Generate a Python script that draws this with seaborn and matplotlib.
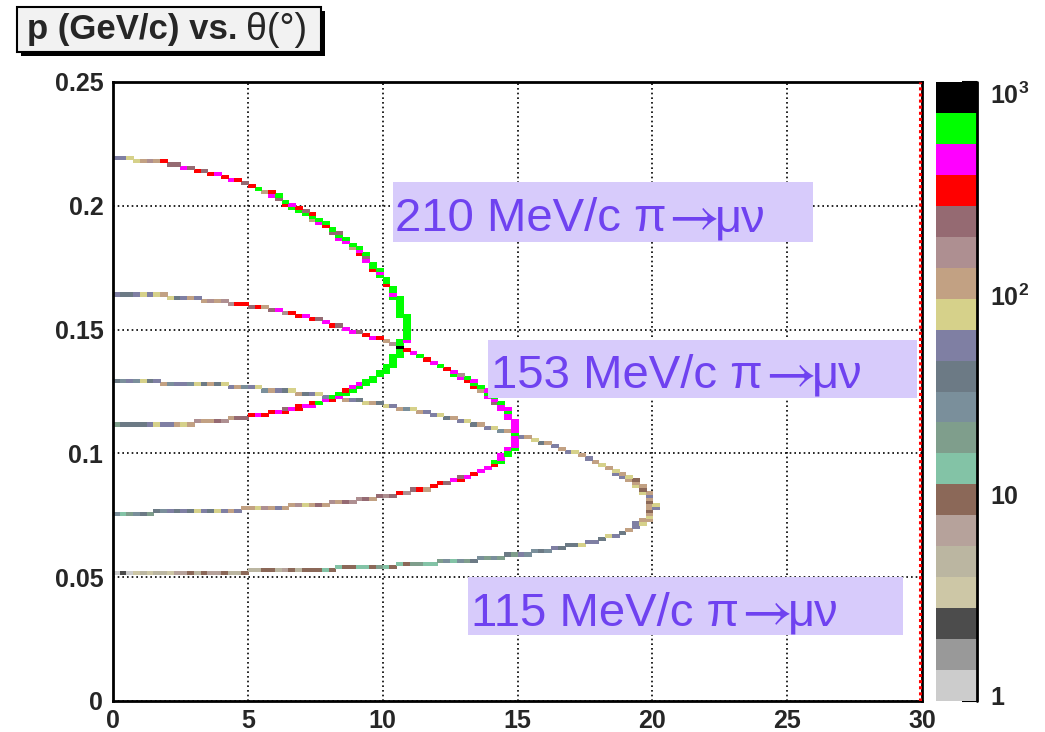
import numpy as np
import pandas as pd
import matplotlib
matplotlib.use("Agg")
import matplotlib.pyplot as plt
import matplotlib.transforms as mtransforms
from matplotlib.colors import ListedColormap, LogNorm
from matplotlib.patches import Rectangle
from matplotlib.ticker import MultipleLocator, FixedLocator, FuncFormatter, NullFormatter
import seaborn as sns

# Muon momentum p (GeV/c) versus muon angle theta (deg) for pi -> mu nu decays in flight.
# Each cell: theta column centre (deg), p cell centre (GeV/c), entries.
pion_momenta = [210, 153, 115]  # MeV/c

# ---- 210 MeV/c pions: forward-emitted (high-p) branch ----
theta_210_fwd = [0.125, 0.375, 0.625, 0.875, 1.125, 1.375, 1.625, 1.875, 2.125, 2.375,
                 2.625, 2.875, 3.125, 3.375, 3.625, 3.875, 4.125, 4.375, 4.625, 4.875,
                 5.125, 5.375, 5.625,
                 5.875, 5.875, 6.125, 6.125, 6.375, 6.375, 6.625, 6.625, 6.875, 6.875, 7.125, 7.125,
                 7.375, 7.375, 7.375, 7.625, 7.625, 7.875, 7.875, 8.125, 8.125,
                 8.375, 8.375, 8.375, 8.625, 8.625, 8.875, 8.875,
                 9.125, 9.125, 9.125, 9.375, 9.375, 9.375, 9.625, 9.625, 9.625,
                 9.875, 9.875, 9.875, 10.125, 10.125, 10.125,
                 10.375, 10.375, 10.375, 10.375,
                 10.625, 10.625, 10.625, 10.625, 10.625, 10.625, 10.625,
                 10.875, 10.875, 10.875, 10.875, 10.875, 10.875, 10.875, 10.875, 10.875]
p_210_fwd = [0.2194, 0.2194, 0.2194, 0.2181, 0.2181, 0.2181, 0.2181, 0.2181, 0.2169, 0.2169,
             0.2156, 0.2156, 0.2144, 0.2144, 0.2131, 0.2131, 0.2119, 0.2106, 0.2106, 0.2094,
             0.2081, 0.2069, 0.2056,
             0.2056, 0.2044, 0.2044, 0.2031, 0.2019, 0.2006, 0.2006, 0.1994, 0.1994, 0.1981, 0.1981, 0.1969,
             0.1969, 0.1956, 0.1944, 0.1944, 0.1931, 0.1931, 0.1919, 0.1906, 0.1894,
             0.1894, 0.1881, 0.1869, 0.1869, 0.1856, 0.1844, 0.1831,
             0.1831, 0.1819, 0.1806, 0.1806, 0.1794, 0.1781, 0.1769, 0.1756, 0.1744,
             0.1744, 0.1731, 0.1719, 0.1706, 0.1694, 0.1681,
             0.1669, 0.1656, 0.1644, 0.1631,
             0.1631, 0.1619, 0.1606, 0.1594, 0.1581, 0.1569, 0.1556,
             0.1556, 0.1544, 0.1531, 0.1519, 0.1506, 0.1494, 0.1481, 0.1469, 0.1456]
n_210_fwd = [45, 55, 70, 80, 110, 140, 120, 260, 190, 230,
             400, 210, 300, 180, 320, 420, 280, 380, 300, 200,
             330, 560, 110,
             290, 400, 560, 200, 520, 330, 460, 580, 280, 620, 210, 540,
             300, 590, 120, 600, 410, 560, 330, 610, 220,
             190, 650, 420, 600, 380, 570, 110,
             610, 440, 300, 590, 180, 480, 620, 560, 270,
             600, 420, 630, 580, 650, 300,
             620, 580, 450, 600,
             640, 600, 620, 650, 580, 620, 660,
             600, 620, 650, 610, 640, 580, 620, 600, 390]

# ---- 210 MeV/c pions: backward-emitted (low-p) branch ----
theta_210_bwd = [0.125, 0.375, 0.625, 0.875, 1.125, 1.375, 1.625, 1.875, 2.125, 2.375,
                 2.625, 2.875, 3.125, 3.375, 3.625, 3.875, 4.125, 4.375, 4.625, 4.875,
                 5.125, 5.375, 5.625, 5.875, 6.125,
                 6.375, 6.375, 6.625, 6.875, 6.875, 7.125, 7.375, 7.375, 7.625, 7.875,
                 8.125, 8.125, 8.375, 8.375, 8.625, 8.625, 8.875, 8.875, 9.125, 9.125,
                 9.375, 9.375, 9.625, 9.625, 9.875, 9.875,
                 10.125, 10.125, 10.125, 10.375, 10.375, 10.375, 10.375,
                 10.625, 10.625, 10.625, 10.625, 10.625, 10.625]
p_210_bwd = [0.1119, 0.1119, 0.1119, 0.1119, 0.1119, 0.1119, 0.1119, 0.1119, 0.1119, 0.1119,
             0.1119, 0.1119, 0.1131, 0.1131, 0.1131, 0.1131, 0.1131, 0.1144, 0.1144, 0.1144,
             0.1156, 0.1156, 0.1156, 0.1169, 0.1169,
             0.1169, 0.1181, 0.1181, 0.1181, 0.1194, 0.1194, 0.1194, 0.1206, 0.1206, 0.1219,
             0.1219, 0.1231, 0.1231, 0.1244, 0.1244, 0.1256, 0.1256, 0.1269, 0.1269, 0.1281,
             0.1281, 0.1294, 0.1294, 0.1306, 0.1319, 0.1331,
             0.1331, 0.1344, 0.1356, 0.1356, 0.1369, 0.1381, 0.1394,
             0.1394, 0.1406, 0.1419, 0.1431, 0.1444, 0.1456]
n_210_bwd = [18, 40, 38, 42, 35, 50, 70, 45, 60, 100,
             80, 95, 150, 110, 90, 190, 160, 120, 230, 200,
             280, 420, 300, 260, 380,
             300, 220, 420, 330, 280, 450, 380, 290, 520, 400,
             330, 560, 420, 600, 560, 330, 610, 480, 590, 420,
             640, 560, 600, 620, 580, 640,
             620, 600, 650, 600, 580, 620, 640,
             600, 620, 610, 640, 580, 600]

# ---- 153 MeV/c pions: forward branch ----
theta_153_fwd = [0.125, 0.375, 0.625, 0.875, 1.125, 1.375, 1.625, 1.875, 2.125, 2.375,
                 2.625, 2.875, 3.125, 3.375, 3.625, 3.875, 4.125, 4.375, 4.625, 4.875,
                 5.125, 5.375, 5.625, 5.875, 6.125, 6.375, 6.625, 6.875, 7.125, 7.375,
                 7.625, 7.875, 8.125, 8.375, 8.625, 8.875, 9.125, 9.375, 9.625, 9.875,
                 10.125, 10.375, 10.625, 10.875, 11.125, 11.375, 11.625, 11.875, 12.125, 12.375,
                 12.625, 12.625, 12.875, 12.875, 13.125, 13.125, 13.375, 13.375, 13.375,
                 13.625, 13.625, 13.875, 13.875, 13.875, 14.125, 14.125, 14.125,
                 14.375, 14.375, 14.375, 14.625, 14.625, 14.625, 14.625,
                 14.875, 14.875, 14.875, 14.875, 14.875, 14.875, 14.875, 14.875, 14.875, 14.875]
p_153_fwd = [0.1644, 0.1644, 0.1644, 0.1644, 0.1644, 0.1644, 0.1644, 0.1644, 0.1631, 0.1631,
             0.1631, 0.1631, 0.1631, 0.1619, 0.1619, 0.1619, 0.1619, 0.1606, 0.1606, 0.1606,
             0.1594, 0.1594, 0.1594, 0.1581, 0.1581, 0.1569, 0.1569, 0.1556, 0.1556, 0.1544,
             0.1544, 0.1531, 0.1519, 0.1519, 0.1506, 0.1494, 0.1494, 0.1481, 0.1469, 0.1469,
             0.1456, 0.1444, 0.1431, 0.1419, 0.1406, 0.1394, 0.1381, 0.1369, 0.1356, 0.1344,
             0.1331, 0.1319, 0.1319, 0.1306, 0.1306, 0.1294, 0.1294, 0.1281, 0.1269,
             0.1269, 0.1256, 0.1256, 0.1244, 0.1231, 0.1231, 0.1219, 0.1206,
             0.1206, 0.1194, 0.1181, 0.1181, 0.1169, 0.1156, 0.1144,
             0.1131, 0.1119, 0.1106, 0.1094, 0.1081, 0.1069, 0.1056, 0.1044, 0.1031, 0.1019]
n_153_fwd = [50, 40, 35, 60, 70, 45, 80, 100, 70, 40,
             55, 110, 45, 90, 140, 100, 160, 130, 270, 300,
             210, 290, 110, 190, 400, 150, 300, 280, 380, 320,
             190, 420, 300, 200, 380, 420, 180, 270, 400, 300,
             120, 160, 240, 300, 420, 550, 280, 380, 520, 300,
             420, 560, 150, 380, 520, 330, 410, 600, 300,
             560, 120, 380, 560, 450, 600, 400, 180,
             520, 430, 380, 400, 560, 450, 420,
             380, 450, 420, 400, 480, 440, 390, 460, 420, 530]

# ---- 153 MeV/c pions: backward branch ----
theta_153_bwd = [0.125, 0.375, 0.625, 0.875, 1.125, 1.375, 1.625, 1.875, 2.125, 2.375,
                 2.625, 2.875, 3.125, 3.375, 3.625, 3.875, 4.125, 4.375, 4.625, 4.875,
                 5.125, 5.375, 5.625, 5.875, 6.125, 6.375, 6.625, 6.875, 7.125, 7.375,
                 7.625, 7.875, 8.125, 8.375, 8.625, 8.875, 9.125, 9.375, 9.625, 9.875,
                 10.125, 10.375, 10.625, 10.875, 11.125, 11.375, 11.625, 11.875, 12.125, 12.375,
                 12.625, 12.875, 12.875, 13.125, 13.375, 13.625, 13.875, 14.125, 14.125,
                 14.375, 14.375, 14.375, 14.625, 14.625, 14.625]
p_153_bwd = [0.0756, 0.0756, 0.0756, 0.0756, 0.0756, 0.0756, 0.0769, 0.0769, 0.0769, 0.0769,
             0.0769, 0.0769, 0.0769, 0.0769, 0.0769, 0.0769, 0.0769, 0.0769, 0.0769, 0.0781,
             0.0781, 0.0781, 0.0781, 0.0781, 0.0781, 0.0781, 0.0794, 0.0794, 0.0794, 0.0794,
             0.0794, 0.0794, 0.0806, 0.0806, 0.0806, 0.0806, 0.0819, 0.0819, 0.0819, 0.0831,
             0.0831, 0.0831, 0.0844, 0.0844, 0.0856, 0.0856, 0.0856, 0.0869, 0.0881, 0.0881,
             0.0894, 0.0894, 0.0906, 0.0906, 0.0919, 0.0931, 0.0944, 0.0956, 0.0969,
             0.0969, 0.0981, 0.0994, 0.0994, 0.1006, 0.1019]
n_153_bwd = [25, 15, 20, 30, 35, 18, 40, 28, 45, 35,
             60, 40, 75, 50, 35, 70, 55, 100, 45, 90,
             110, 70, 130, 95, 60, 120, 100, 140, 75, 110,
             200, 120, 160, 90, 210, 130, 150, 240, 110, 190,
             140, 220, 280, 160, 200, 300, 120, 260, 330, 240,
             400, 280, 220, 420, 300, 450, 380, 320, 520,
             560, 420, 460, 600, 520, 450]

# ---- 115 MeV/c pions: forward branch ----
theta_115_fwd = [0.125, 0.375, 0.625, 0.875, 1.125, 1.375, 1.625, 1.875, 2.125, 2.375,
                 2.625, 2.875, 3.125, 3.375, 3.625, 3.875, 4.125, 4.375, 4.625, 4.875,
                 5.125, 5.375, 5.625, 5.875, 6.125, 6.375, 6.625, 6.875, 7.125, 7.375,
                 7.625, 7.875, 8.125, 8.375, 8.625, 8.875, 9.125, 9.375, 9.625, 9.875,
                 10.125, 10.375, 10.625, 10.875, 11.125, 11.375, 11.625, 11.875, 12.125, 12.375,
                 12.625, 12.875, 13.125, 13.375, 13.625, 13.875, 14.125, 14.375, 14.625, 14.875,
                 15.125, 15.375, 15.625, 15.875, 16.125, 16.375, 16.625, 16.875, 17.125, 17.375,
                 17.625, 17.875, 18.125, 18.375,
                 18.625, 18.625, 18.875, 18.875, 19.125, 19.125, 19.375, 19.375, 19.375,
                 19.625, 19.625, 19.625, 19.875, 19.875, 19.875, 19.875, 19.875, 20.125, 20.125]
p_115_fwd = [0.1294, 0.1294, 0.1294, 0.1294, 0.1294, 0.1294, 0.1294, 0.1281, 0.1281, 0.1281,
             0.1281, 0.1281, 0.1281, 0.1281, 0.1281, 0.1281, 0.1281, 0.1269, 0.1269, 0.1269,
             0.1269, 0.1269, 0.1256, 0.1256, 0.1256, 0.1256, 0.1256, 0.1244, 0.1244, 0.1244,
             0.1244, 0.1231, 0.1231, 0.1231, 0.1219, 0.1219, 0.1219, 0.1206, 0.1206, 0.1206,
             0.1194, 0.1194, 0.1181, 0.1181, 0.1181, 0.1169, 0.1169, 0.1156, 0.1156, 0.1144,
             0.1144, 0.1131, 0.1131, 0.1119, 0.1119, 0.1106, 0.1106, 0.1094, 0.1094, 0.1081,
             0.1069, 0.1069, 0.1056, 0.1044, 0.1044, 0.1031, 0.1019, 0.1006, 0.1006, 0.0994,
             0.0981, 0.0969, 0.0956, 0.0944,
             0.0931, 0.0919, 0.0919, 0.0906, 0.0906, 0.0894, 0.0894, 0.0881, 0.0869,
             0.0869, 0.0856, 0.0844, 0.0844, 0.0831, 0.0819, 0.0806, 0.0794, 0.0794, 0.0781]
n_115_fwd = [40, 30, 55, 25, 70, 35, 45, 90, 30, 60,
             50, 28, 75, 40, 100, 35, 65, 45, 110, 30,
             55, 80, 25, 95, 60, 40, 70, 115, 35, 50,
             85, 45, 60, 30, 100, 55, 40, 75, 110, 35,
             65, 50, 90, 28, 70, 105, 45, 60, 80, 35,
             100, 55, 70, 40, 115, 60, 85, 30, 95, 65,
             50, 110, 75, 40, 90, 60, 120, 45, 80, 100,
             55, 95, 70, 110,
             85, 60, 100, 45, 75, 115, 10, 90, 70,
             110, 9, 80, 100, 55, 120, 10, 95, 75, 45]

# ---- 115 MeV/c pions: backward branch ----
theta_115_bwd = [0.125, 0.375, 0.625, 0.875, 1.125, 1.375, 1.625, 1.875, 2.125, 2.375,
                 2.625, 2.875, 3.125, 3.375, 3.625, 3.875, 4.125, 4.375, 4.625, 4.875,
                 5.125, 5.375, 5.625, 5.875, 6.125, 6.375, 6.625, 6.875, 7.125, 7.375,
                 7.625, 7.875, 8.125, 8.375, 8.625, 8.875, 9.125, 9.375, 9.625, 9.875,
                 10.125, 10.375, 10.625, 10.875, 11.125, 11.375, 11.625, 11.875, 12.125, 12.375,
                 12.625, 12.875, 13.125, 13.375, 13.625, 13.875, 14.125, 14.375, 14.625, 14.875,
                 15.125, 15.375, 15.625, 15.875, 16.125, 16.375, 16.625, 16.875, 17.125, 17.375,
                 17.625, 17.875, 18.125, 18.375, 18.625, 18.875, 19.125,
                 19.375, 19.375, 19.625, 19.625, 19.875, 19.875, 19.875, 19.875, 19.875]
p_115_bwd = [0.0519, 0.0519, 0.0519, 0.0519, 0.0519, 0.0519, 0.0519, 0.0519, 0.0519, 0.0519,
             0.0519, 0.0519, 0.0519, 0.0519, 0.0519, 0.0519, 0.0519, 0.0519, 0.0519, 0.0519,
             0.0531, 0.0531, 0.0531, 0.0531, 0.0531, 0.0531, 0.0531, 0.0531, 0.0531, 0.0531,
             0.0531, 0.0531, 0.0531, 0.0544, 0.0544, 0.0544, 0.0544, 0.0544, 0.0544, 0.0544,
             0.0544, 0.0544, 0.0556, 0.0556, 0.0556, 0.0556, 0.0556, 0.0556, 0.0569, 0.0569,
             0.0569, 0.0569, 0.0569, 0.0569, 0.0581, 0.0581, 0.0581, 0.0581, 0.0594, 0.0594,
             0.0594, 0.0594, 0.0606, 0.0606, 0.0606, 0.0619, 0.0619, 0.0631, 0.0631, 0.0631,
             0.0644, 0.0644, 0.0656, 0.0669, 0.0669, 0.0681, 0.0694,
             0.0706, 0.0719, 0.0719, 0.0731, 0.0731, 0.0744, 0.0756, 0.0769, 0.0781]
n_115_bwd = [1, 2, 1, 3, 4, 3, 5, 4, 3, 6,
             7, 8, 5, 9, 6, 7, 10, 4, 5, 8,
             5, 4, 9, 10, 4, 6, 8, 5, 9, 10,
             8, 12, 9, 14, 10, 9, 13, 12, 10, 20,
             14, 9, 12, 10, 18, 22, 13, 15, 19, 24,
             14, 28, 20, 35, 26, 18, 30, 22, 35, 20,
             45, 30, 24, 40, 28, 50, 38, 40, 34, 70,
             45, 60, 38, 75, 55, 40, 95,
             60, 45, 80, 110, 100, 70, 120, 10, 90]

# Colour levels of the palette, from 1 entry (bottom) to 1000 entries (top)
palette_colors = ["#cccccc", "#999999", "#4c4c4c", "#cdc7a6", "#bbb6a1", "#b6a29b",
                  "#8b6858", "#83c3a6", "#7f9e8c", "#7a8f9b", "#6c7a85", "#7f7fa3",
                  "#d6d18a", "#c2a183", "#ae8f91", "#956a72", "#ff0000", "#ff00ff",
                  "#00ff00", "#000000"]
scale_ticks = [1, 10, 100, 1000]
scale_labels = ["1", "10", r"$\mathbf{10^{2}}$", r"$\mathbf{10^{3}}$"]

branches = [
    (theta_210_fwd, p_210_fwd, n_210_fwd), (theta_210_bwd, p_210_bwd, n_210_bwd),
    (theta_153_fwd, p_153_fwd, n_153_fwd), (theta_153_bwd, p_153_bwd, n_153_bwd),
    (theta_115_fwd, p_115_fwd, n_115_fwd), (theta_115_bwd, p_115_bwd, n_115_bwd),
]
df = pd.concat([pd.DataFrame({"theta": th, "p": pp, "n": nn}) for th, pp, nn in branches],
               ignore_index=True)

sns.set_style("white")
plt.rcParams["font.family"] = ["Liberation Sans", "DejaVu Sans"]
plt.rcParams["mathtext.fontset"] = "custom"
plt.rcParams["mathtext.rm"] = "Liberation Sans"
plt.rcParams["mathtext.bf"] = "Liberation Sans:bold"

W, H = 1045, 732
fig = plt.figure(figsize=(W / 100, H / 100), dpi=100)
fig.patch.set_facecolor("white")
ax = fig.add_axes([113 / W, (H - 701) / H, (922 - 113) / W, (701 - 82) / H])

cmap = ListedColormap(palette_colors)
cmap.set_over("#000000")
norm = LogNorm(vmin=1, vmax=1000)

x_edges = np.linspace(0, 30, 121)
y_edges = np.linspace(0, 0.25, 201)
sns.histplot(data=df, x="theta", y="p", weights="n", bins=[x_edges, y_edges],
             cmap=cmap, ax=ax, zorder=2)
mesh = ax.collections[-1]
mesh.set_cmap(cmap)
mesh.set_norm(norm)
mesh.set_edgecolor("face")
mesh.set_linewidth(0.6)

ax.set_xlim(0, 30)
ax.set_ylim(0, 0.25)
ax.set_xlabel("")
ax.set_ylabel("")
ax.set_facecolor("white")
ax.set_axisbelow(True)
ax.grid(True, which="major", color="black", linestyle=(0, (1, 1.8)), linewidth=1.2)

ax.xaxis.set_major_locator(MultipleLocator(5))
ax.xaxis.set_minor_locator(MultipleLocator(1))
ax.yaxis.set_major_locator(MultipleLocator(0.05))
ax.yaxis.set_minor_locator(MultipleLocator(0.01))
fmt = FuncFormatter(lambda v, pos: f"{v:g}")
ax.xaxis.set_major_formatter(fmt)
ax.yaxis.set_major_formatter(fmt)
ax.tick_params(which="both", direction="in", top=False, right=False,
               width=1.5, color="black")
ax.tick_params(which="major", length=11, labelsize=18)
ax.tick_params(which="minor", length=7)
ax.tick_params(axis="x", which="major", pad=6)
ax.tick_params(axis="y", which="major", pad=7)
for lab in ax.get_xticklabels() + ax.get_yticklabels():
    lab.set_fontweight("bold")
for s in ax.spines.values():
    s.set_color("black")
    s.set_linewidth(2)
    s.set_visible(True)

# red marker line drawn along the upper theta edge
ax.axvline(29.94, color="#ff0000", linewidth=2.2, linestyle=(0, (1, 1)), zorder=6)

# momentum labels: lavender boxes with the decay written in violet
box_face = "#d7cbfb"
text_col = "#6f42f0"
label_boxes = [
    (10.37, 25.97, 0.1855, 0.2098, 10.45, 0.1897),
    (13.91, 29.82, 0.1224, 0.1458, 14.03, 0.1265),
    (13.16, 29.30, 0.0266, 0.0500, 13.27, 0.0303),
]
fig.canvas.draw()
renderer = fig.canvas.get_renderer()
px_per_deg = ax.get_window_extent(renderer).width / 30.0
for pm, (x0, x1, y0, y1, tx, ty) in zip(pion_momenta, label_boxes):
    ax.add_patch(Rectangle((x0, y0), x1 - x0, y1 - y0, facecolor=box_face,
                           edgecolor="none", zorder=3))
    x = tx
    for piece, size, gap in [(f"{pm} MeV/c \u03c0", 34, -6),
                             (r"$\rightarrow$", 40, -3),
                             ("\u03bc\u03bd", 34, 0)]:
        t = ax.text(x, ty, piece, color=text_col, fontsize=size, math_fontfamily="stix",
                    va="baseline", ha="left", zorder=4)
        w = t.get_window_extent(renderer).width
        x += (w + gap) / px_per_deg

# palette (colour scale)
cax = fig.add_axes([936 / W, (H - 701) / H, 41 / W, (701 - 82) / H])
cb = fig.colorbar(mesh, cax=cax)
cb.outline.set_visible(False)
cax.yaxis.set_major_locator(FixedLocator(scale_ticks))
cax.yaxis.set_major_formatter(NullFormatter())
minor_vals = [m * d for d in (1, 10, 100) for m in range(2, 10)]
cax.yaxis.set_minor_locator(FixedLocator(minor_vals))
cax.yaxis.set_minor_formatter(NullFormatter())
cax.tick_params(which="both", direction="in", right=True, left=False, width=1.5,
                color="black", labelright=False, labelleft=False)
cax.tick_params(which="major", length=11)
cax.tick_params(which="minor", length=6)
cax.plot([1, 1], [0, 1], transform=cax.transAxes, color="black", lw=2, clip_on=False)
lab_tr = mtransforms.blended_transform_factory(cax.transAxes, cax.transData)
label_heights = [1.03, 9.7, 90.0, 860.0]
for val_y, lab in zip(label_heights, scale_labels):
    cax.text(1.32, val_y, lab, transform=lab_tr, fontsize=18, fontweight="bold",
             ha="left", va="center", clip_on=False)

# title box with drop shadow
bx0, by0, bw, bh = 17 / W, (H - 52) / H, 304 / W, 45 / H
fig.patches.append(Rectangle((bx0 + 4 / W, by0 - 4 / H), bw, bh, transform=fig.transFigure,
                             facecolor="black", edgecolor="none", zorder=1))
fig.patches.append(Rectangle((bx0, by0), bw, bh, transform=fig.transFigure,
                             facecolor="#f2f2f2", edgecolor="black", linewidth=1.5, zorder=2))
t1 = fig.text(27 / W, (H - 30) / H, "p (GeV/c) vs.", fontsize=25, fontweight="bold",
              va="center", ha="left", zorder=3)
bb = t1.get_window_extent(renderer)
fig.text(bb.x1 / W + 8 / W, (H - 30) / H, "\u03b8(\u00b0)", fontsize=27,
         va="center", ha="left", zorder=3)

fig.savefig("out.png", dpi=100)
